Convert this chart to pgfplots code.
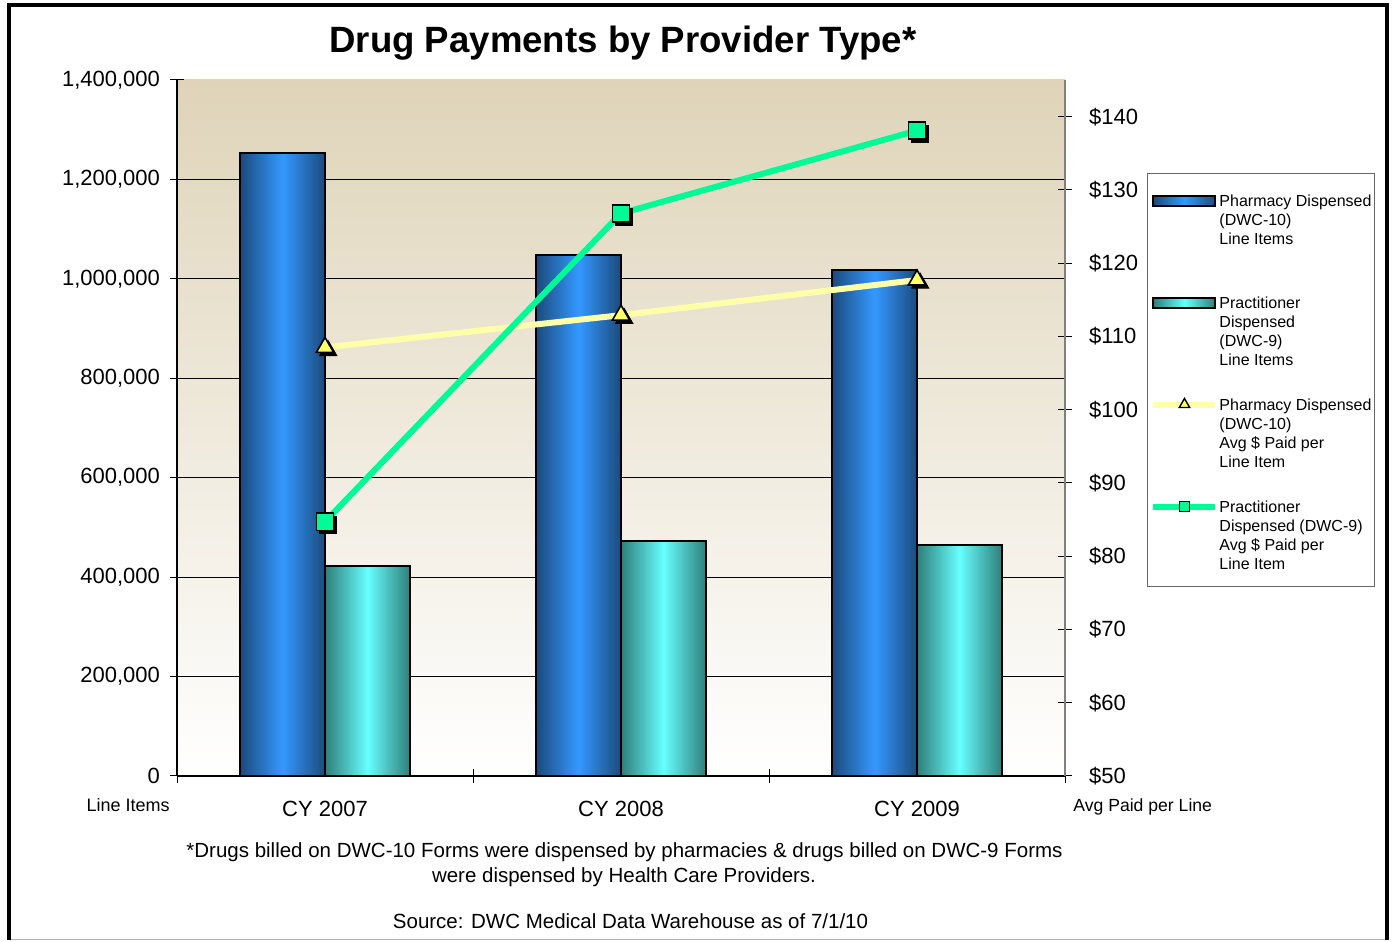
\documentclass[border=0pt]{standalone}
\usepackage{fontspec}
\setmainfont{Liberation Sans}
\usepackage{pgfplots}
\pgfplotsset{compat=1.18}
\definecolor{pharmdark}{RGB}{28,74,124}
\definecolor{pharmlight}{RGB}{51,153,255}
\definecolor{practdark}{RGB}{46,127,122}
\definecolor{practlight}{RGB}{102,255,255}
\definecolor{yline}{RGB}{255,255,170}
\definecolor{ymark}{RGB}{255,255,102}
\definecolor{gline}{RGB}{0,250,150}
\definecolor{gmark}{RGB}{0,250,150}
\definecolor{bgtop}{RGB}{223,212,185}
\newcommand{\lgd}[4]{\vtop{\hbox{\strut #1}\hbox{\strut #2}\hbox{\strut #3}\hbox{\strut #4}}}
\pgfplotsset{
  pharmbar/.style={ybar, bar width=42.5pt, bar shift=-21.25pt, draw=black, line width=1pt,
    left color=pharmdark, right color=pharmdark, middle color=pharmlight, forget plot},
  practbar/.style={ybar, bar width=42.5pt, bar shift=21.25pt, draw=black, line width=1pt,
    left color=practdark, right color=practdark, middle color=practlight, forget plot},
}
\begin{document}
\begin{tikzpicture}[x=0.5pt,y=0.5pt]
\useasboundingbox (0,0) rectangle (1392,942);
% frame
\draw[black!30, line width=0.5pt] (9,2) -- (1387,2);
\draw[black, line width=1.6pt] (9,2) -- (9,937) -- (1387,937) -- (1387,2);
% plot background
\shade[top color=bgtop, bottom color=white] (177,166) rectangle (1065,862);
% title
\node[anchor=base] at (623,889) {\fontsize{18.3}{22}\selectfont\bfseries Drug Payments by Provider Type*};
\begin{axis}[
  at={(88.5pt,83pt)}, anchor=south west,
  scale only axis, width=444pt, height=348pt,
  xmin=-0.5, xmax=2.5, ymin=0, ymax=1400000,
  axis x line*=bottom, axis y line*=left,
  axis line style={black, line width=0.6pt},
  tick align=center,
  major tick length=7pt, minor tick length=7pt,
  every tick/.style={black, line width=0.5pt},
  xtick={0,1,2}, xticklabels={CY 2007,CY 2008,CY 2009},
  major x tick style={draw=none},
  minor xtick={-0.5,0.5,1.5,2.5},
  ytick={0,200000,...,1200000},
  extra y ticks={1400000},
  extra y tick style={grid=none},
  ymajorgrids,
  major grid style={black, line width=0.5pt},
  scaled y ticks=false,
  /pgf/number format/assume math mode=true,
  /pgf/number format/fixed,
  /pgf/number format/1000 sep={,},
  ticklabel style={font=\fontsize{11}{13}\selectfont},
  yticklabel style={xshift=-1.5pt},
  xticklabel style={yshift=-5.5pt},
]
% Pharmacy Dispensed (DWC-10) line items
\addplot[pharmbar] coordinates {(0,1253000)};
\addplot[pharmbar] coordinates {(1,1048000)};
\addplot[pharmbar] coordinates {(2,1018000)};
% Practitioner Dispensed (DWC-9) line items
\addplot[practbar] coordinates {(0,422000)};
\addplot[practbar] coordinates {(1,473000)};
\addplot[practbar] coordinates {(2,465000)};
\end{axis}
\begin{axis}[
  at={(88.5pt,83pt)}, anchor=south west,
  scale only axis, width=444pt, height=348pt,
  xmin=-0.5, xmax=2.5, ymin=50, ymax=145,
  axis x line=none, axis y line*=right,
  axis line style={black!50, line width=0.6pt},
  tick align=center,
  major tick length=7pt,
  every tick/.style={black, line width=0.5pt},
  ytick={50,60,...,140},
  yticklabels={\$50,\$60,\$70,\$80,\$90,\$100,\$110,\$120,\$130,\$140},
  ticklabel style={font=\fontsize{11}{13}\selectfont},
  yticklabel style={xshift=5pt},
  legend style={at={(1.0923,0.8664)}, anchor=north west,
    draw=black!60, line width=0.5pt, fill=white,
    inner xsep=1.5pt, inner ysep=5.6pt, row sep=13pt, column sep=0.5pt,
    font=\fontsize{8}{9.5}\selectfont,
    cells={anchor=base west},
    nodes={inner sep=0pt, text depth=}},
]
\addplot[color=yline, line width=3pt, forget plot] coordinates {(0,108.5) (1,112.9) (2,117.7)};
\addplot[only marks, mark=triangle*, mark size=5pt, black, forget plot,
  mark options={xshift=1.6pt, yshift=-1.6pt}] coordinates {(0,108.5) (1,112.9) (2,117.7)};
\addplot[only marks, mark=triangle*, mark size=5pt, draw=black, fill=ymark, line width=0.8pt, forget plot]
  coordinates {(0,108.5) (1,112.9) (2,117.7)};
\addplot[color=gline, line width=3pt, forget plot] coordinates {(0,84.7) (1,126.8) (2,138.1)};
\addplot[only marks, mark=square*, mark size=4.3pt, black, forget plot,
  mark options={xshift=1.6pt, yshift=-1.6pt}] coordinates {(0,84.7) (1,126.8) (2,138.1)};
\addplot[only marks, mark=square*, mark size=4.3pt, draw=black, fill=gmark, line width=0.8pt, forget plot]
  coordinates {(0,84.7) (1,126.8) (2,138.1)};
\addlegendimage{legend image code/.code={\draw[draw=black, line width=1pt, left color=pharmdark, right color=pharmdark, middle color=pharmlight] (0pt,0.5pt) rectangle (31pt,5.5pt);}}
\addlegendentry{\lgd{\rule{0pt}{10.9pt}Pharmacy Dispensed}{(DWC-10)}{Line Items}{}}
\addlegendimage{legend image code/.code={\draw[draw=black, line width=1pt, left color=practdark, right color=practdark, middle color=practlight] (0pt,0.5pt) rectangle (31pt,5.5pt);}}
\addlegendentry{\lgd{Practitioner}{Dispensed}{(DWC-9)}{Line Items}}
\addlegendimage{legend image code/.code={\draw[yline, line width=3pt] (0pt,3pt) -- (31pt,3pt);
  \path plot[only marks, mark=triangle*, mark size=3pt, mark options={draw=black, fill=ymark, line width=0.7pt}] coordinates {(15.5pt,3pt)};}}
\addlegendentry{\lgd{Pharmacy Dispensed}{(DWC-10)}{Avg \$ Paid per}{Line Item}}
\addlegendimage{legend image code/.code={\draw[gline, line width=3pt] (0pt,3pt) -- (31pt,3pt);
  \path plot[only marks, mark=square*, mark size=2.5pt, mark options={draw=black, fill=gmark, line width=0.7pt}] coordinates {(15.5pt,3pt)};}}
\addlegendentry{\lgd{Practitioner}{Dispensed (DWC-9)}{Avg \$ Paid per}{Line Item}}
\end{axis}
% axis side labels
\node[anchor=base east, inner sep=0pt] at (170,130.5) {\fontsize{9}{11}\selectfont Line Items};
\node[anchor=base west, inner sep=0pt] at (1073,130.5) {\fontsize{8.8}{11}\selectfont Avg Paid per Line};
% footnotes
\node[anchor=base, inner sep=0pt] at (624.5,84) {\fontsize{10.25}{12}\selectfont *Drugs billed on DWC-10 Forms were dispensed by pharmacies \& drugs billed on DWC-9 Forms};
\node[anchor=base, inner sep=0pt] at (624,59) {\fontsize{10.25}{12}\selectfont were dispensed by Health Care Providers.};
\node[anchor=base, inner sep=0pt] at (630.5,13) {\fontsize{10.25}{12}\selectfont Source: DWC Medical Data Warehouse as of 7/1/10};
\end{tikzpicture}
\end{document}
